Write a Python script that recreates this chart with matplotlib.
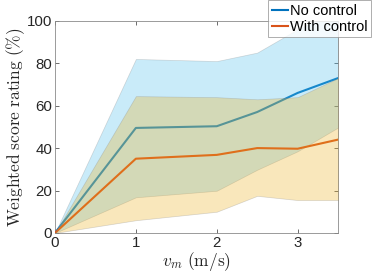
import matplotlib
matplotlib.use("Agg")
import matplotlib.pyplot as plt
import numpy as np

plt.rcParams['mathtext.fontset'] = 'cm'
plt.rcParams['font.family'] = ['Liberation Sans', 'DejaVu Sans']

v = [0, 1, 2, 2.5, 3, 3.5]
no_mean = [0, 49.5, 50.3, 57, 66, 73]
no_low = [0, 16.8, 19.9, 29.8, 38.5, 49.7]
no_high = [0, 82, 81, 85, 96, 105]
with_mean = [0, 35, 36.8, 40, 39.7, 44]
with_low = [0, 6, 10, 17.5, 15.5, 15.5]
with_high = [0, 64.5, 64, 63, 64, 73]

fig = plt.figure(figsize=(3.74, 2.77), dpi=100)
ax = fig.add_axes([0.147, 0.159, 0.757, 0.766])

l1, = ax.plot(v, no_mean, color='#0072BD', lw=1.5, zorder=1, label='No control')
ax.fill_between(v, no_low, no_high, facecolor='#4DBEEE', alpha=0.3,
                edgecolor=(0.5, 0.5, 0.5, 0.5), lw=0.5, zorder=2)
l2, = ax.plot(v, with_mean, color='#D95319', lw=1.5, zorder=3, label='With control')
ax.fill_between(v, with_low, with_high, facecolor='#EDB120', alpha=0.3,
                edgecolor=(0.5, 0.5, 0.5, 0.5), lw=0.5, zorder=4)

ax.set_xlim(0, 3.5)
ax.set_ylim(0, 100)
ax.set_xticks([0, 1, 2, 3])
ax.set_yticks([0, 20, 40, 60, 80, 100])
ax.tick_params(direction='in', top=True, right=True, length=3, width=0.6,
               color='#555555', labelsize=10.8, labelcolor='#262626', pad=2)
for s in ax.spines.values():
    s.set_color('#8a8a8a')
    s.set_linewidth(0.6)

ax.set_xlabel(r'$v_m\ \mathrm{(m/s)}$', fontsize=12.5, labelpad=0, color='#262626')
ax.set_ylabel(r'$\mathrm{Weighted\ score\ rating\ (\%)}$', fontsize=12.5, labelpad=0, color='#262626')

leg = fig.legend(handles=[l1, l2], loc='upper right', bbox_to_anchor=(0.993, 1.0),
                 fontsize=10.5, frameon=True, fancybox=False, handlelength=1.1,
                 handletextpad=0.15, borderpad=0.25, labelspacing=0.15,
                 borderaxespad=0.0)
leg.get_frame().set_edgecolor('#8a8a8a')
leg.get_frame().set_linewidth(0.6)

fig.savefig('out.png', dpi=100)
